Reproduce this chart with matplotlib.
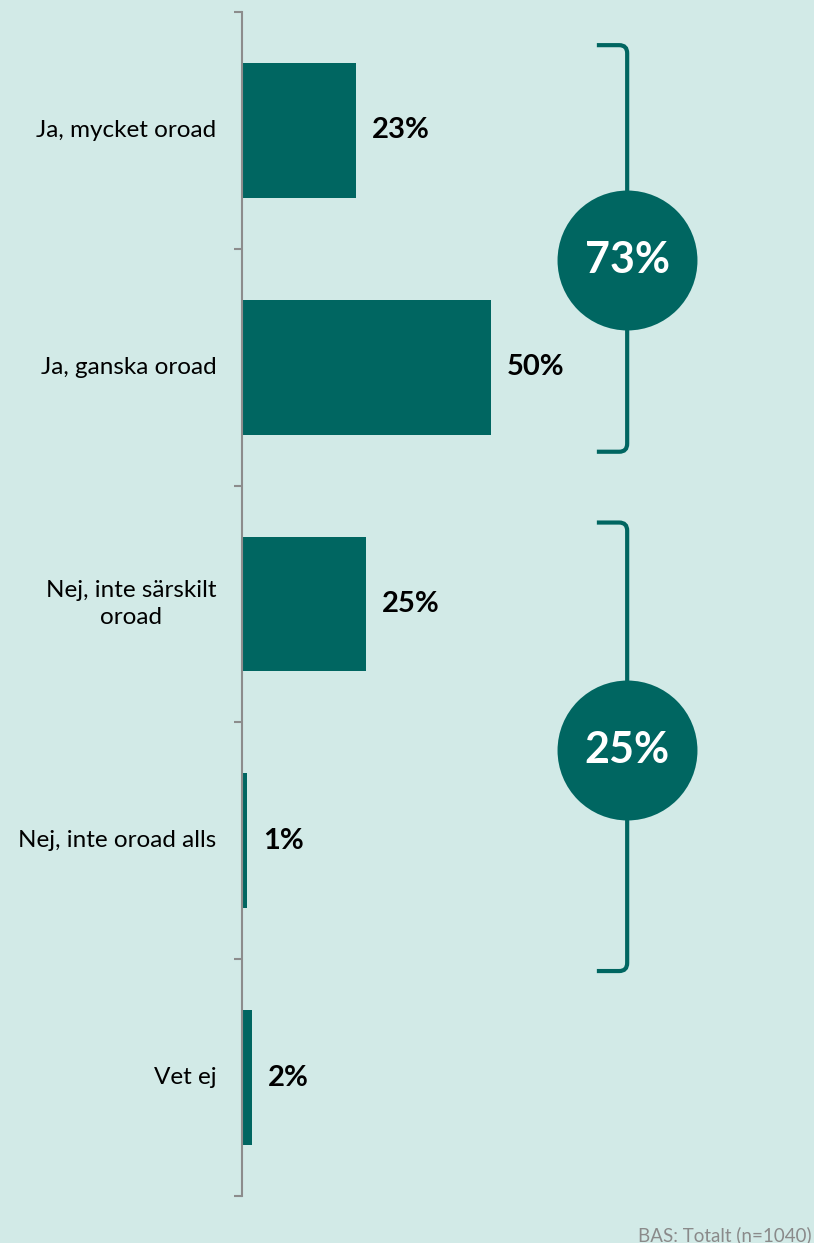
import matplotlib.pyplot as plt
from matplotlib.path import Path
from matplotlib.patches import PathPatch

# ---------------------------------------------------------------------------
# Data
# ---------------------------------------------------------------------------
categories = [
    "Ja, mycket oroad",
    "Ja, ganska oroad",
    "Nej, inte särskilt\noroad",
    "Nej, inte oroad alls",
    "Vet ej",
]
values = [23, 50, 25, 1, 2]
value_labels = ["23%", "50%", "25%", "1%", "2%"]

group_totals = ["73%", "25%"]
group_members = [(0, 1), (2, 3)]
footnote = "BAS: Totalt (n=1040)"

# ---------------------------------------------------------------------------
# Style / layout
# ---------------------------------------------------------------------------
BG = "#d2eae7"
BAR = "#006661"
AXIS = "#8c8c8c"
FONT = ["Lato", "DejaVu Sans"]
plt.rcParams["font.family"] = FONT

W, H = 814, 1243
fig = plt.figure(figsize=(W / 100, H / 100), dpi=100, facecolor=BG)
ax = fig.add_axes([242 / W, 1 - 1196 / H, 1 - 242 / W, (1196 - 12) / H])
ax.set_facecolor(BG)

px_per_pct = 4.97
ax.set_xlim(0, (W - 242) / px_per_pct)
ax.set_ylim(len(categories) - 0.5, -0.5)

ypos = list(range(len(categories)))
ax.barh(ypos, values, height=0.57, color=BAR)

for y, v, lab in zip(ypos, values, value_labels):
    ax.annotate(lab, (v, y), xytext=(11.5, 0), textcoords="offset points",
                ha="left", va="center", fontsize=21, fontweight="bold",
                color="black")

for y, cat in zip(ypos, categories):
    ax.annotate(cat, (0, y), xytext=(-18.5, 0), textcoords="offset points",
                ha="right", va="center", multialignment="center",
                fontsize=17.5, color="black", linespacing=1.4)

# axis: left spine with boundary ticks only
for s in ("top", "right", "bottom"):
    ax.spines[s].set_visible(False)
ax.spines["left"].set_color(AXIS)
ax.spines["left"].set_linewidth(1.5)
ax.set_xticks([])
ax.set_yticks([i - 0.5 for i in range(len(categories) + 1)])
ax.set_yticklabels([])
ax.tick_params(axis="y", length=6, width=1.5, color=AXIS, direction="out")

# brackets + summary circles
x_v = 77.5          # vertical bracket line (in % units)
x_l = 71.4          # end of the hooks
rx, ry = 1.6, 0.034
bracket_pad = [(0.36, 0.357), (0.344, 0.55)]
circle_shift = [0.05, 0.015]
for (a, b), (pt, pb), sh, tot in zip(group_members, bracket_pad,
                                     circle_shift, group_totals):
    top, bot = a - pt, b + pb
    verts = [(x_l, top), (x_v - rx, top), (x_v, top), (x_v, top + ry),
             (x_v, bot - ry), (x_v, bot), (x_v - rx, bot), (x_l, bot)]
    codes = [Path.MOVETO, Path.LINETO, Path.CURVE3, Path.CURVE3,
             Path.LINETO, Path.CURVE3, Path.CURVE3, Path.LINETO]
    ax.add_patch(PathPatch(Path(verts, codes), fill=False, edgecolor=BAR,
                           lw=3.0, capstyle="butt", zorder=3))
    cy = (top + bot) / 2 + sh
    ax.scatter([x_v], [cy], s=10150, color=BAR, zorder=4, linewidths=0)
    ax.text(x_v, cy, tot, ha="center", va="center", color="white",
            fontsize=31, fontweight="bold", zorder=5)

fig.text(812 / W, 1 - 1235 / H, footnote, ha="right", va="center",
         fontsize=13.5, color="#8a8a8a")

fig.savefig("out.png", dpi=100, facecolor=BG)
